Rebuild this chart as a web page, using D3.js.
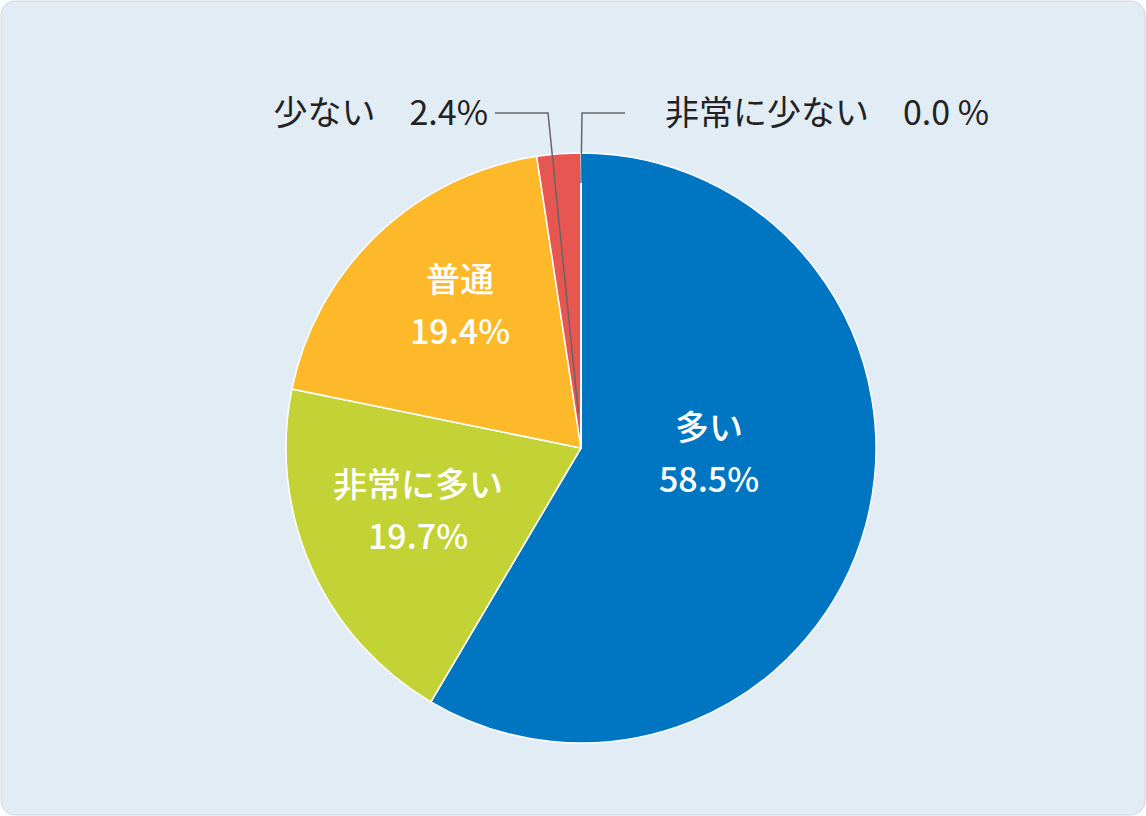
<!DOCTYPE html><html><head><meta charset="utf-8">
<script src="https://cdn.jsdelivr.net/npm/d3@7"></script>
<style>body{margin:0;background:#fff}</style></head><body>
<svg id="c" width="1146" height="816"></svg>
<script>
const categories=["多い","非常に多い","普通","少ない","非常に少ない"];
const values=[58.5,19.7,19.4,2.4,0.0];
const colors=["#0075c2","#c3d235","#fdb92a","#e85652","#e85652"];
const svg=d3.select("#c");
svg.append("rect").attr("x",1).attr("y",1).attr("width",1144).attr("height",814).attr("rx",14).attr("fill","#e2ecf5").attr("stroke","#d0d8e0");
const cx=581,cy=448,r=295;
const g=svg.append("g").attr("transform",`translate(${cx},${cy})`);
const data=categories.map((c,i)=>({c,v:values[i],col:colors[i]}));
const pie=d3.pie().value(d=>d.v).sort(null);
const arcs=pie(data);
const arc=d3.arc().innerRadius(0).outerRadius(r);
g.selectAll("path").data(arcs).join("path").attr("d",arc).attr("fill",d=>d.data.col).attr("stroke","#fff").attr("stroke-width",1.5);
const font="'Noto Sans CJK JP',sans-serif";
const inner={"多い":[128,-8],"非常に多い":[-163,49],"普通":[-121,-156]};
arcs.forEach(a=>{const p=inner[a.data.c];if(!p)return;
 const t=g.append("text").attr("text-anchor","middle").attr("fill","#fff").attr("font-family",font).attr("font-size",34).attr("font-weight",500);
 t.append("tspan").attr("x",p[0]).attr("y",p[1]).text(a.data.c);
 t.append("tspan").attr("x",p[0]).attr("y",p[1]+52).text(a.data.v.toFixed(1)+"%");});
// outside labels
const s=arcs[3], m=(s.startAngle+s.endAngle)/2;
const px=Math.sin(m)*(r-260), py=-Math.cos(m)*(r-260);
svg.append("polyline").attr("points",`${cx+px},${cy+py} ${548},${113} ${495},${113}`).attr("fill","none").attr("stroke","#666").attr("stroke-width",1.5);
svg.append("polyline").attr("points",`${cx},${cy-r+30} ${582},${113} ${625},${113}`).attr("fill","none").attr("stroke","#666").attr("stroke-width",1.5);
svg.append("text").attr("x",488).attr("y",125).attr("text-anchor","end").attr("font-family",font).attr("font-size",34).attr("fill","#222").text(categories[3]+"　"+values[3].toFixed(1)+"%");
svg.append("text").attr("x",665).attr("y",125).attr("font-family",font).attr("font-size",34).attr("fill","#222").attr("xml:space","preserve").text(categories[4]+"　"+values[4].toFixed(1)+" %");
</script></body></html>
